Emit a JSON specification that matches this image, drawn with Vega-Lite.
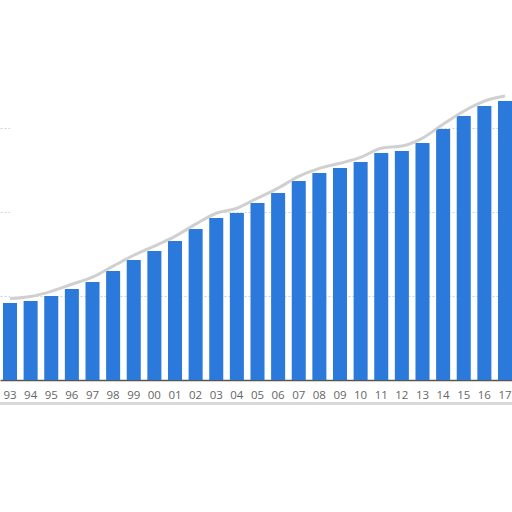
{
  "$schema": "https://vega.github.io/schema/vega-lite/v6.json",
  "width": 515,
  "height": 336,
  "autosize": "none",
  "padding": {"left": 0, "top": 44, "right": 0, "bottom": 132},
  "background": "white",
  "data": {
    "values": [
      {"year": "93", "value": 9.17, "tear": 9.7},
      {"year": "94", "value": 9.4, "tear": 9.95},
      {"year": "95", "value": 10.0, "tear": 10.55},
      {"year": "96", "value": 10.83, "tear": 11.4},
      {"year": "97", "value": 11.67, "tear": 12.25},
      {"year": "98", "value": 12.98, "tear": 13.55},
      {"year": "99", "value": 14.29, "tear": 14.85},
      {"year": "00", "value": 15.36, "tear": 15.95},
      {"year": "01", "value": 16.55, "tear": 17.1},
      {"year": "02", "value": 17.98, "tear": 18.55},
      {"year": "03", "value": 19.29, "tear": 19.85},
      {"year": "04", "value": 19.88, "tear": 20.45},
      {"year": "05", "value": 21.07, "tear": 21.65},
      {"year": "06", "value": 22.26, "tear": 22.85},
      {"year": "07", "value": 23.69, "tear": 24.25},
      {"year": "08", "value": 24.64, "tear": 25.2},
      {"year": "09", "value": 25.24, "tear": 25.8},
      {"year": "10", "value": 25.95, "tear": 26.5},
      {"year": "11", "value": 27.02, "tear": 27.6},
      {"year": "12", "value": 27.26, "tear": 27.85},
      {"year": "13", "value": 28.21, "tear": 28.8},
      {"year": "14", "value": 29.88, "tear": 30.45},
      {"year": "15", "value": 31.43, "tear": 32.0},
      {"year": "16", "value": 32.62, "tear": 33.2},
      {"year": "17", "value": 33.21, "tear": 33.8}
    ]
  },
  "layer": [
    {
      "mark": {"type": "bar", "color": "#2b79db"},
      "encoding": {
        "x": {
          "field": "year",
          "type": "nominal",
          "sort": null,
          "scale": {"paddingInner": 0.32, "paddingOuter": 0.145},
          "axis": {
            "title": null,
            "ticks": false,
            "labelAngle": 0,
            "labelColor": "#666666",
            "labelFontSize": 11.5,
            "labelFont": "Open Sans",
            "labelPadding": 9,
            "domainColor": "#555555",
            "domainWidth": 1.5
          }
        },
        "y": {
          "field": "value",
          "type": "quantitative",
          "scale": {"domain": [0, 40], "nice": false, "clamp": false},
          "axis": {
            "title": null,
            "labels": false,
            "ticks": false,
            "domain": false,
            "values": [10, 20, 30],
            "gridColor": "#c9d3e0",
            "gridDash": [2, 2]
          }
        }
      }
    },
    {
      "mark": {"type": "area", "color": "white", "interpolate": "monotone"},
      "encoding": {
        "x": {"field": "year", "type": "nominal", "sort": null},
        "y": {"field": "tear", "type": "quantitative"},
        "y2": {"datum": 40}
      }
    },
    {
      "mark": {"type": "line", "color": "#c4c4c4", "strokeWidth": 3, "interpolate": "monotone", "opacity": 0.8},
      "encoding": {
        "x": {"field": "year", "type": "nominal", "sort": null},
        "y": {"field": "tear", "type": "quantitative"}
      }
    },
    {
      "mark": {"type": "rule", "color": "#d8d8d8", "strokeWidth": 2.5, "opacity": 0.6},
      "encoding": {
        "y": {"datum": -2.8}
      }
    }
  ],
  "config": {"view": {"stroke": null}}
}
